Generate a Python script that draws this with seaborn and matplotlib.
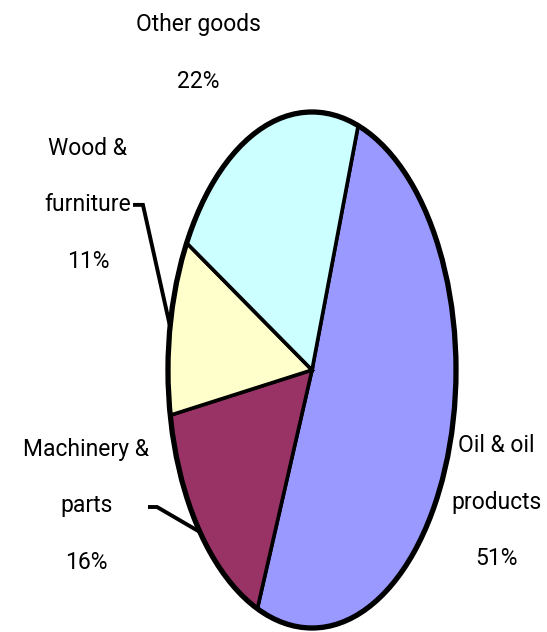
import numpy as np
import matplotlib
matplotlib.use("Agg")
import matplotlib.pyplot as plt
from matplotlib import font_manager as fm
from matplotlib.patches import Circle
from matplotlib.textpath import TextPath
import seaborn as sns

# data
categories = ["Oil & oil\nproducts", "Machinery &\nparts", "Wood &\nfurniture", "Other goods"]
shares = [51, 16, 11, 22]
colors = ["#9999FF", "#993366", "#FFFFCC", "#CCFFFF"]

# label centres in pie units (radius 1)
label_pos = [(1.278, -0.512), (-1.569, -0.527), (-1.556, 0.640), (-0.792, 1.229)]
# leader lines: text end and elbow, then on to the wedge edge
leaders = {1: [(-1.139, -0.531), (-1.076, -0.531)],
           2: [(-1.243, 0.640), (-1.174, 0.640)]}

sns.set_theme(style="white")
plt.rcParams["font.family"] = ["DejaVu Sans"]


# the original text is tall and narrow: take the narrowest of the plain sans faces
def pick_font():
    files = []
    for name in ["Liberation Sans Narrow", "DejaVu Sans", "Liberation Sans", "Roboto",
                 "Lato", "Noto Sans", "Open Sans"]:
        try:
            files.append(fm.findfont(fm.FontProperties(family=name), fallback_to_default=False))
        except ValueError:
            pass

    def ratio(path):
        p = fm.FontProperties(fname=path)
        w = TextPath((0, 0), "Machinery &", size=10, prop=p).get_extents().width
        h = TextPath((0, 0), "H", size=10, prop=p).get_extents().height
        return w / h
    return fm.FontProperties(fname=min(files, key=ratio))


font = pick_font()
w = TextPath((0, 0), "Machinery &", size=10, prop=font).get_extents().width
fsize = 10 * 124 * 0.72 / w
lh = TextPath((0, 0), "l", size=fsize, prop=font).get_extents().y1 / 0.72
font.set_size(fsize)

fig = plt.figure(figsize=(5.47, 6.32), dpi=100)
ax = fig.add_axes([0, 0, 1, 1])

wedges, _ = ax.pie(shares, colors=colors, startangle=71.3, counterclock=False,
                   wedgeprops=dict(edgecolor="black", linewidth=2.6))
ax.add_patch(Circle((0, 0), 1, fill=False, edgecolor="black", linewidth=3.8))

for i, (cat, val) in enumerate(zip(categories, shares)):
    x, y = label_pos[i]
    ax.text(x, y, f"{cat}\n{val}%", ha="center", va="center",
            fontproperties=font, linespacing=49 / lh, color="black")
    if i in leaders:
        wd = wedges[i]
        mid = np.deg2rad((wd.theta1 + wd.theta2) / 2)
        pts = leaders[i] + [(np.cos(mid), np.sin(mid))]
        ax.plot([p[0] for p in pts], [p[1] for p in pts], color="black",
                linewidth=2.8, solid_capstyle="butt", solid_joinstyle="miter")

ax.set_aspect("auto")
ax.set_xlim(-312 / 144, 235 / 144)
ax.set_ylim(-262 / 258, 370 / 258)
ax.axis("off")

fig.savefig("out.png", dpi=100)
